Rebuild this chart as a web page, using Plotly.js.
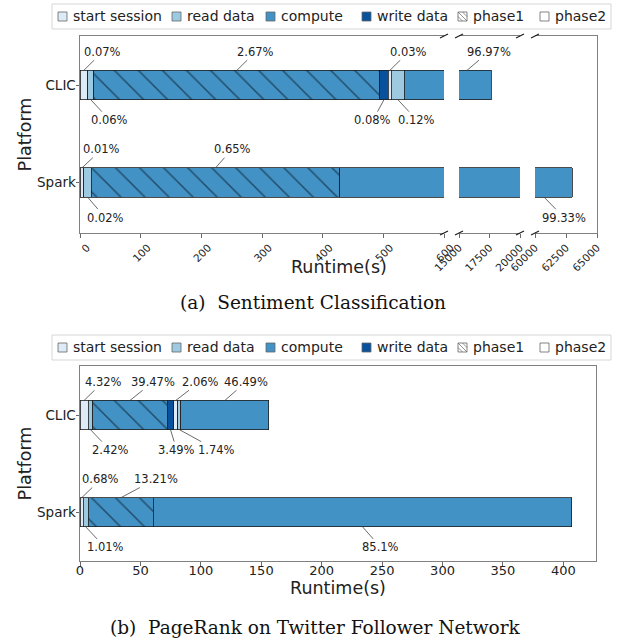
<!DOCTYPE html>
<html><head><meta charset="utf-8">
<script src="https://cdn.plot.ly/plotly-3.0.1.min.js"></script>
<style>
body{margin:0;background:#fff;}
#chartA,#chartB{position:absolute;left:0;width:618px;height:320px;}
#chartA{top:0;} #chartB{top:320px;}
</style>
</head><body>
<div id="chartA"></div><div id="chartB"></div>
<script>
// ---------------- data ----------------
const platforms = ['CLIC', 'Spark'];
const platformPos = [1, 0];
const segmentNames = ['start session (phase1)', 'read data (phase1)', 'compute (phase1)', 'write data (phase1)',
                      'start session (phase2)', 'read data (phase2)', 'compute (phase2)'];
// (a) Sentiment Classification, runtime in seconds per segment
const sentClic  = [12.4, 10.6, 471, 14.1, 5.3, 21.2, 17115];
const sentSpark = [6.3, 12.6, 409, null, null, null, 62570];
const sentClicLabels  = ['0.07%', '0.06%', '2.67%', '0.08%', '0.03%', '0.12%', '96.97%'];
const sentSparkLabels = ['0.01%', '0.02%', '0.65%', '', '', '', '99.33%'];
const sentTicks1 = [0, 100, 200, 300, 400, 500, 600];
const sentTicks2 = [15000, 17500, 20000];
const sentTicks3 = [60000, 62500, 65000];
// (b) PageRank on Twitter Follower Network, runtime in seconds per segment
const prClic  = [6.75, 3.78, 61.65, 5.45, 3.22, 2.72, 72.6];
const prSpark = [2.77, 4.11, 53.8, null, null, null, 346.4];
const prClicLabels  = ['4.32%', '2.42%', '39.47%', '3.49%', '2.06%', '1.74%', '46.49%'];
const prSparkLabels = ['0.68%', '1.01%', '13.21%', '', '', '', '85.1%'];
const prTicks = [0, 50, 100, 150, 200, 250, 300, 350, 400];
const legendLabels = ['start session', 'read data', 'compute', 'write data', 'phase1', 'phase2'];

// ---------------- style ----------------
const SEG_COLORS = ['#deebf7', '#9ecae1', '#4292c6', '#08519c', '#deebf7', '#9ecae1', '#4292c6'];
const SEG_HATCH  = [false, false, true, false, false, false, false];
const LEG_COLORS = ['#deebf7', '#9ecae1', '#4292c6', '#08519c', '#ffffff', '#ffffff'];
const FRAME = '#808080';
const FONT = 'DejaVu Sans';
const BAR_W = 0.3;

function cumMid(vals, i) {
  let s = 0;
  for (let k = 0; k < i; k++) s += (vals[k] || 0);
  return s + (vals[i] || 0) / 2;
}

function barTraces(clic, spark, axes) {
  const traces = [];
  axes.forEach(function (a) {
    for (let s = 0; s < segmentNames.length; s++) {
      const marker = {color: SEG_COLORS[s], line: {color: '#1f1f1f', width: 0.8}};
      if (SEG_HATCH[s]) marker.pattern = {shape: '\\', fillmode: 'overlay', fgcolor: '#000000', size: 17, solidity: 0.08};
      traces.push({type: 'bar', orientation: 'h', name: segmentNames[s],
        x: [clic[s], spark[s]], y: platformPos, width: BAR_W,
        xaxis: a[0], yaxis: a[1], marker: marker, showlegend: false, hoverinfo: 'skip'});
    }
  });
  return traces;
}

function makeConv(l, t, W, H) {
  return {px: function (x) { return (x - l) / W; }, py: function (y) { return 1 - (y - t) / H; }};
}

function legendDecor(conv, boxTop) {
  const shapes = [], anns = [];
  const boxL = 52, boxR = 611, boxH = 25;
  shapes.push({type: 'rect', xref: 'paper', yref: 'paper', x0: conv.px(boxL), x1: conv.px(boxR),
    y0: conv.py(boxTop + boxH), y1: conv.py(boxTop), line: {color: '#d6d6d6', width: 1}, fillcolor: 'rgba(255,255,255,0.9)'});
  const textX = [71, 185, 279, 375, 471, 553];
  const cy = boxTop + boxH / 2;
  legendLabels.forEach(function (lab, i) {
    const sx0 = textX[i] - 13, sx1 = sx0 + 9, sy0 = cy - 4.5, sy1 = cy + 4.5;
    shapes.push({type: 'rect', xref: 'paper', yref: 'paper', x0: conv.px(sx0), x1: conv.px(sx1),
      y0: conv.py(sy1), y1: conv.py(sy0), fillcolor: LEG_COLORS[i], line: {color: '#666', width: 0.8}});
    if (i === 4) {
      const segs = [[sx0, sy0, sx1, sy1], [sx0 + 4.5, sy0, sx1, sy0 + 4.5], [sx0, sy0 + 4.5, sx0 + 4.5, sy1]];
      segs.forEach(function (s) {
        shapes.push({type: 'line', xref: 'paper', yref: 'paper', x0: conv.px(s[0]), y0: conv.py(s[1]),
          x1: conv.px(s[2]), y1: conv.py(s[3]), line: {color: '#666', width: 0.7}});
      });
    }
    anns.push({xref: 'paper', yref: 'paper', x: conv.px(textX[i]), y: conv.py(cy), xanchor: 'left', yanchor: 'middle',
      text: lab, showarrow: false, font: {family: FONT, size: 14, color: '#222'}});
  });
  return {shapes: shapes, anns: anns};
}

function valueAnn(vals, labels, rowY, seg, side, dx, xref, yref, xAt) {
  const x = (xAt !== undefined) ? xAt : cumMid(vals, seg);
  const y = side === 'top' ? rowY + BAR_W / 2 : rowY - BAR_W / 2;
  return {x: x, y: y, xref: xref, yref: yref, text: labels[seg], showarrow: true, arrowhead: 0,
    arrowwidth: 0.8, arrowcolor: '#444', ax: dx, ay: side === 'top' ? -18.7 : 20.5, standoff: 0,
    font: {family: FONT, size: 11.5, color: '#222'}};
}

const axisCommon = {showgrid: false, zeroline: false, showline: true, linecolor: FRAME, linewidth: 1,
  ticks: 'outside', ticklen: 3.5, tickcolor: '#444', tickwidth: 0.8, fixedrange: true};

// ---------------- chart (a) ----------------
(function () {
  const l = 80, r = 21, t = 36, b = 87, W = 618 - l - r, H = 320 - t - b;
  const conv = makeConv(l, t, W, H);
  const d1 = [0, (444 - l) / W], d2 = [(459 - l) / W, (520 - l) / W], d3 = [(535 - l) / W, 1];
  const traces = barTraces(sentClic, sentSpark, [['x', 'y'], ['x2', 'y2'], ['x3', 'y3']]);
  const xt = {tickangle: -45, tickformat: 'd', tickfont: {family: FONT, size: 10.5, color: '#222'}, mirror: true};
  const yRange = [-0.518, 1.503];
  const layout = {
    width: 618, height: 320, margin: {l: l, r: r, t: t, b: b},
    paper_bgcolor: '#fff', plot_bgcolor: '#fff', barmode: 'stack', bargap: 0, showlegend: false,
    font: {family: FONT, color: '#222'},
    xaxis: Object.assign({}, axisCommon, xt, {domain: d1, range: [0, 600], tickvals: sentTicks1, anchor: 'y', ticklabelshift: 7}),
    xaxis2: Object.assign({}, axisCommon, xt, {domain: d2, range: [15000, 20000], tickvals: sentTicks2, anchor: 'y2', ticklabelshift: 11.5}),
    xaxis3: Object.assign({}, axisCommon, xt, {domain: d3, range: [60000, 65000], tickvals: sentTicks3, anchor: 'y3', ticklabelshift: 11.5}),
    yaxis: Object.assign({}, axisCommon, {anchor: 'x', range: yRange, tickvals: platformPos, ticktext: platforms,
      tickfont: {family: FONT, size: 13.5, color: '#222'}, ticklabelstandoff: -3,
      title: {text: 'Platform', font: {family: FONT, size: 17.5, color: '#222'}, standoff: 0}}),
    yaxis2: {anchor: 'x2', matches: 'y', range: yRange, showline: false, showticklabels: false, ticks: '', showgrid: false, zeroline: false, fixedrange: true},
    yaxis3: {anchor: 'x3', matches: 'y', range: yRange, side: 'right', showline: true, linecolor: FRAME, linewidth: 1,
      showticklabels: false, ticks: '', showgrid: false, zeroline: false, fixedrange: true},
    shapes: [], annotations: []
  };
  // break marks
  [444, 459, 520, 535].forEach(function (xp) {
    [t, t + H].forEach(function (yp) {
      layout.shapes.push({type: 'line', xref: 'paper', yref: 'paper', x0: conv.px(xp - 4), y0: conv.py(yp + 2),
        x1: conv.px(xp + 4), y1: conv.py(yp - 2), line: {color: '#1a1a1a', width: 1.1}});
    });
  });
  const leg = legendDecor(conv, 4);
  layout.shapes = layout.shapes.concat(leg.shapes);
  const A = layout.annotations;
  A.push(valueAnn(sentClic, sentClicLabels, 1, 0, 'top', 19, 'x', 'y'));
  A.push(valueAnn(sentClic, sentClicLabels, 1, 1, 'bottom', 19, 'x', 'y'));
  A.push(valueAnn(sentClic, sentClicLabels, 1, 2, 'top', 19, 'x', 'y'));
  A.push(valueAnn(sentClic, sentClicLabels, 1, 3, 'bottom', -11, 'x', 'y'));
  A.push(valueAnn(sentClic, sentClicLabels, 1, 4, 'top', 19, 'x', 'y'));
  A.push(valueAnn(sentClic, sentClicLabels, 1, 5, 'bottom', 19, 'x', 'y'));
  A.push(valueAnn(sentClic, sentClicLabels, 1, 6, 'top', 22, 'x2', 'y2', 15650));
  A.push(valueAnn(sentSpark, sentSparkLabels, 0, 0, 'top', 20, 'x', 'y'));
  A.push(valueAnn(sentSpark, sentSparkLabels, 0, 1, 'bottom', 17.5, 'x', 'y'));
  A.push(valueAnn(sentSpark, sentSparkLabels, 0, 2, 'top', 16.5, 'x', 'y'));
  A.push(valueAnn(sentSpark, sentSparkLabels, 0, 6, 'bottom', 20, 'x3', 'y3', 60730));
  A.push({xref: 'paper', yref: 'paper', x: 0.5, y: conv.py(267), xanchor: 'center', yanchor: 'middle',
    text: 'Runtime(s)', showarrow: false, font: {family: FONT, size: 17.5, color: '#222'}});
  A.push({xref: 'paper', yref: 'paper', x: conv.px(313), y: conv.py(302), xanchor: 'center', yanchor: 'middle',
    text: '(a)  Sentiment Classification', showarrow: false, font: {family: 'DejaVu Serif', size: 18.5, color: '#111'}});
  layout.annotations = A.concat(leg.anns);
  Plotly.newPlot('chartA', traces, layout, {displayModeBar: false, staticPlot: true});
})();

// ---------------- chart (b) ----------------
(function () {
  const l = 80, r = 22, t = 46, b = 79, W = 618 - l - r, H = 320 - t - b;
  const conv = makeConv(l, t, W, H);
  const traces = barTraces(prClic, prSpark, [['x', 'y']]);
  const layout = {
    width: 618, height: 320, margin: {l: l, r: r, t: t, b: b},
    paper_bgcolor: '#fff', plot_bgcolor: '#fff', barmode: 'stack', bargap: 0, showlegend: false,
    font: {family: FONT, color: '#222'},
    xaxis: Object.assign({}, axisCommon, {range: [0, 427], tickvals: prTicks, mirror: true,
      tickfont: {family: FONT, size: 13, color: '#222'}, ticklabelstandoff: -6,
      title: {text: 'Runtime(s)', font: {family: FONT, size: 17.5, color: '#222'}, standoff: 2}}),
    yaxis: Object.assign({}, axisCommon, {range: [-0.5, 1.504], tickvals: platformPos, ticktext: platforms, mirror: true,
      tickfont: {family: FONT, size: 13.5, color: '#222'}, ticklabelstandoff: -3,
      title: {text: 'Platform', font: {family: FONT, size: 17.5, color: '#222'}, standoff: 0}}),
    shapes: [], annotations: []
  };
  const leg = legendDecor(conv, 15);
  layout.shapes = leg.shapes;
  const A = [];
  A.push(valueAnn(prClic, prClicLabels, 1, 0, 'top', 19.2, 'x', 'y'));
  A.push(valueAnn(prClic, prClicLabels, 1, 1, 'bottom', 19.6, 'x', 'y'));
  A.push(valueAnn(prClic, prClicLabels, 1, 2, 'top', 23.3, 'x', 'y'));
  A.push(valueAnn(prClic, prClicLabels, 1, 3, 'bottom', 6.2, 'x', 'y'));
  A.push(valueAnn(prClic, prClicLabels, 1, 4, 'top', 24.3, 'x', 'y'));
  A.push(valueAnn(prClic, prClicLabels, 1, 5, 'bottom', 37.4, 'x', 'y'));
  A.push(valueAnn(prClic, prClicLabels, 1, 6, 'top', 21.4, 'x', 'y'));
  A.push(valueAnn(prSpark, prSparkLabels, 0, 0, 'top', 19.3, 'x', 'y'));
  A.push(valueAnn(prSpark, prSparkLabels, 0, 1, 'bottom', 19.2, 'x', 'y'));
  A.push(valueAnn(prSpark, prSparkLabels, 0, 2, 'top', 34.9, 'x', 'y'));
  A.push(valueAnn(prSpark, prSparkLabels, 0, 6, 'bottom', 18.1, 'x', 'y'));
  A.push({xref: 'paper', yref: 'paper', x: conv.px(315), y: conv.py(307), xanchor: 'center', yanchor: 'middle',
    text: '(b)  PageRank on Twitter Follower Network', showarrow: false, font: {family: 'DejaVu Serif', size: 18.5, color: '#111'}});
  layout.annotations = A.concat(leg.anns);
  Plotly.newPlot('chartB', traces, layout, {displayModeBar: false, staticPlot: true});
})();
</script>
</body></html>
